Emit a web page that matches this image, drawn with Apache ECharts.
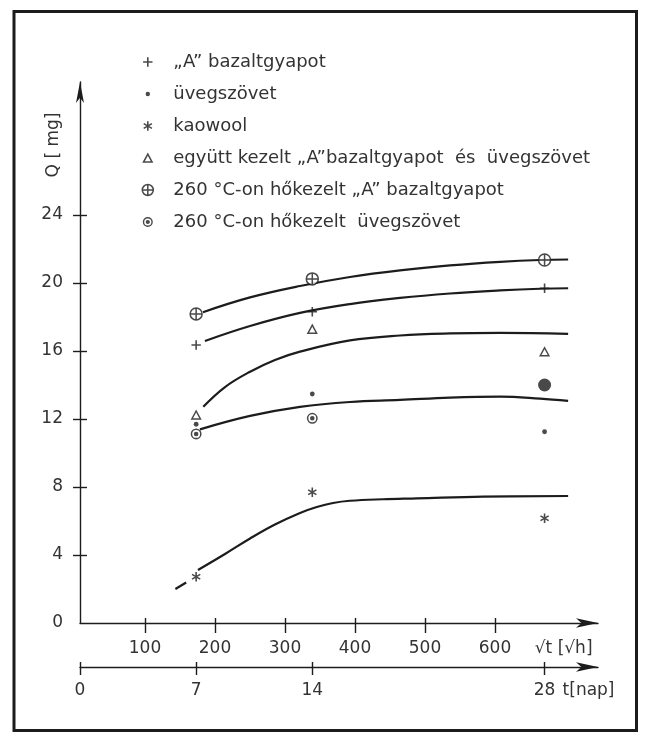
<!DOCTYPE html>
<html>
<head>
<meta charset="utf-8">
<script src="https://cdn.jsdelivr.net/npm/echarts@6/dist/echarts.min.js"></script>
<style>
html,body{margin:0;padding:0;background:#ffffff;}
#chart{width:647px;height:736px;}
</style>
</head>
<body>
<div id="chart"></div>
<script>
// ---------- data ----------
const qTicks = [0, 4, 8, 12, 16, 20, 24];            // Q [mg]
const hourTicks = [100, 200, 300, 400, 500, 600];     // upper scale
const dayTicks = [0, 7, 14, 28];                      // t [nap]
const sampleDays = [7, 14, 28];

const seriesNames = [
  '„A” bazaltgyapot',
  'üvegszövet',
  'kaowool',
  'együtt kezelt „A”bazaltgyapot  és  üvegszövet',
  '260 °C-on hőkezelt „A” bazaltgyapot',
  '260 °C-on hőkezelt  üvegszövet'
];

const bazalt   = [16.35, 18.31, 19.69];   // +
const uveg     = [11.69, 13.47, 11.25];   // •
const kaowool  = [2.72, 7.69, 6.16];      // *
const egyutt   = [12.24, 17.29, 15.96];   // △
const hoBazalt = [18.18, 20.24, 21.35];   // ⊕
const hoUveg   = [11.12, 12.04, 14.0];    // ◉

// hand-drawn trend curves [day, Q]
const curveHoBazalt = [[7.41,18.28],[10.25,19.15],[13.26,19.82],[16.27,20.35],[19.29,20.74],[22.30,21.03],[25.32,21.24],[27.73,21.35],[29.42,21.38]];
const curveBazalt   = [[7.53,16.59],[10.25,17.47],[13.26,18.24],[16.27,18.76],[19.29,19.12],[22.30,19.38],[25.32,19.56],[27.73,19.66],[29.42,19.69]];
const curveEgyutt   = [[7.43,12.72],[8.74,13.88],[10.25,14.78],[11.75,15.47],[13.26,15.96],[16.27,16.62],[19.29,16.91],[22.30,17.03],[25.32,17.06],[29.42,17.0]];
const curveUveg     = [[7.23,11.39],[10.25,12.18],[13.26,12.71],[16.27,13.0],[19.29,13.12],[22.30,13.26],[25.32,13.32],[27.73,13.2],[29.42,13.06]];
const curveKaowool  = [[7.11,3.12],[8.74,4.06],[10.25,4.97],[11.75,5.79],[13.26,6.47],[14.27,6.82],[15.25,7.06],[16.27,7.19],[18.26,7.28],[20.31,7.33],[24.29,7.43],[29.42,7.47]];
const leadKaowool   = [[5.75,2.0],[6.4,2.38]];

// ---------- styling ----------
const INK = '#1c1c1c';
const TXT = '#333333';
const FONT = 'DejaVu Sans';

const SYM = {
  plus:  'path://M0,0 M11,11 M5.5,0.8 L5.5,10.2 M0.8,5.5 L10.2,5.5',
  dot:   'path://M0,0 M11,11 M3.3,5.5 A2.2,2.2 0 1 1 7.7,5.5 A2.2,2.2 0 1 1 3.3,5.5 Z',
  star:  'path://M0,0 M11,11 M5.5,0.8 L5.5,10.2 M1.4,3.15 L9.6,7.85 M1.4,7.85 L9.6,3.15',
  tri:   'path://M0,0 M11,11 M5.5,1.6 L9.8,9.6 L1.2,9.6 Z',
  oplus: 'path://M0,5.5 A5.5,5.5 0 1 1 11,5.5 A5.5,5.5 0 1 1 0,5.5 Z M5.5,0 L5.5,11 M0,5.5 L11,5.5',
  bull:  'path://M0,0 M11,11 M0.5,5.5 A5,5 0 1 1 10.5,5.5 A5,5 0 1 1 0.5,5.5 Z M1.9,5.5 A3.6,3.6 0 1 0 9.1,5.5 A3.6,3.6 0 1 0 1.9,5.5 Z M3.4,5.5 A2.1,2.1 0 1 1 7.6,5.5 A2.1,2.1 0 1 1 3.4,5.5 Z'
};
const STY = {
  stroke: {color: 'transparent', borderColor: INK, borderWidth: 1.6},
  hollow: {color: '#ffffff', borderColor: INK, borderWidth: 1.5},
  solid:  {color: INK, borderColor: INK, borderWidth: 0}
};

const scatterDefs = [
  {values: bazalt,   symbol: SYM.plus,  style: STY.stroke, size: 11},
  {values: uveg,     symbol: SYM.dot,   style: STY.solid,  size: 12},
  {values: kaowool,  symbol: SYM.star,  style: STY.stroke, size: 11},
  {values: egyutt,   symbol: SYM.tri,   style: STY.hollow, size: 11},
  {values: hoBazalt, symbol: SYM.oplus, style: STY.hollow, size: 12},
  {values: hoUveg,   symbol: SYM.bull,  style: STY.solid,  size: 12}
];

function curve(name, data, extra) {
  return Object.assign({
    type: 'line', name: name, xAxisIndex: 2, yAxisIndex: 0,
    data: data, showSymbol: false, smooth: 0.4,
    silent: true, z: 2,
    lineStyle: {color: INK, width: 2.2}
  }, extra || {});
}

const series = [
  curve('c1', curveHoBazalt),
  curve('c2', curveBazalt),
  curve('c3', curveEgyutt),
  curve('c4', curveUveg),
  curve('c5', curveKaowool),
  curve('c6', leadKaowool, {smooth: false})
];

scatterDefs.forEach(function (d, k) {
  series.push({
    type: 'scatter', name: seriesNames[k], xAxisIndex: 2, yAxisIndex: 0,
    symbol: d.symbol, symbolSize: d.size, z: 5, silent: true,
    itemStyle: d.style,
    data: d.values.map(function (v, i) {
      if (k === 5 && i === 2) {
        return {value: [sampleDays[i], v], symbol: 'circle', symbolSize: 13};
      }
      return [sampleDays[i], v];
    })
  });
});

const labelStyle = {fontFamily: FONT, fontSize: 17, color: TXT};
const axisLine = (size) => ({
  show: true, onZero: false,
  symbol: ['none', 'arrow'],
  symbolSize: size,
  lineStyle: {color: INK, width: 1.4}
});

const option = {
  animation: false,
  backgroundColor: '#ffffff',
  grid: {left: 80, right: 49, top: 82, bottom: 113, containLabel: false},
  legend: {
    show: true, orient: 'vertical', left: 141.5, top: 52, padding: 0,
    itemWidth: 11, itemHeight: 11, itemGap: 12, selectedMode: false,
    textStyle: {fontFamily: FONT, fontSize: 18, color: TXT, lineHeight: 20, padding: [0, 0, 0, 15]},
    data: seriesNames.map(function (n, k) {
      return {name: n, icon: scatterDefs[k].symbol, itemStyle: scatterDefs[k].style};
    })
  },
  xAxis: [
    { // upper scale (labelled 100..600)
      type: 'value', position: 'bottom', min: 7.1, max: 747.1,
      axisLine: axisLine([7, 22]),
      axisTick: {show: true, inside: false, length: 10, customValues: hourTicks, lineStyle: {color: INK, width: 1.4}},
      axisLabel: Object.assign({show: true, margin: 17, customValues: hourTicks.concat([698]),
        formatter: function (v) { return v === 698 ? '√t [√h]' : String(v); }}, labelStyle),
      splitLine: {show: false}
    },
    {
      type: 'value', position: 'bottom', min: 7.1, max: 747.1,
      axisLine: {show: false, onZero: false},
      axisTick: {show: true, inside: true, length: 5, customValues: hourTicks, lineStyle: {color: INK, width: 1.4}},
      axisLabel: {show: false}, splitLine: {show: false}
    },
    { // t [nap]
      type: 'value', position: 'bottom', offset: 44, min: 0, max: 31.22,
      axisLine: axisLine([7, 22]),
      axisTick: {show: true, inside: false, length: 8, customValues: dayTicks, lineStyle: {color: INK, width: 1.4}},
      axisLabel: Object.assign({show: true, margin: 15, customValues: dayTicks.concat([30.65]),
        formatter: function (v) { return v === 30.65 ? 't[nap]' : String(v); }}, labelStyle),
      splitLine: {show: false}
    },
    {
      type: 'value', position: 'bottom', offset: 44, min: 0, max: 31.22,
      axisLine: {show: false, onZero: false},
      axisTick: {show: true, inside: true, length: 5, customValues: dayTicks, lineStyle: {color: INK, width: 1.4}},
      axisLabel: {show: false}, splitLine: {show: false}
    }
  ],
  yAxis: [
    {
      type: 'value', position: 'left', min: 0, max: 31.82,
      axisLine: axisLine([6, 21]),
      axisTick: {show: true, inside: false, length: 7, customValues: qTicks.slice(1), lineStyle: {color: INK, width: 1.4}},
      axisLabel: Object.assign({show: true, margin: 17, customValues: qTicks}, labelStyle),
      splitLine: {show: false}
    },
    {
      type: 'value', position: 'left', min: 0, max: 31.82,
      axisLine: {show: false, onZero: false},
      axisTick: {show: true, inside: true, length: 7, customValues: qTicks.slice(1), lineStyle: {color: INK, width: 1.4}},
      axisLabel: {show: false}, splitLine: {show: false}
    }
  ],
  graphic: [
    {type: 'rect', silent: true, z: 100,
     shape: {x: 14, y: 11.5, width: 622.5, height: 719},
     style: {fill: 'none', stroke: INK, lineWidth: 3}},
    {type: 'text', silent: true, x: 54, y: 145, rotation: Math.PI / 2,
     style: {text: 'Q [ mg]', fontFamily: FONT, fontSize: 17, fill: TXT, align: 'center', verticalAlign: 'middle'}}
  ],
  series: series
};

const chart = echarts.init(document.getElementById('chart'), null, {renderer: 'canvas'});
chart.setOption(option);
</script>
</body>
</html>
